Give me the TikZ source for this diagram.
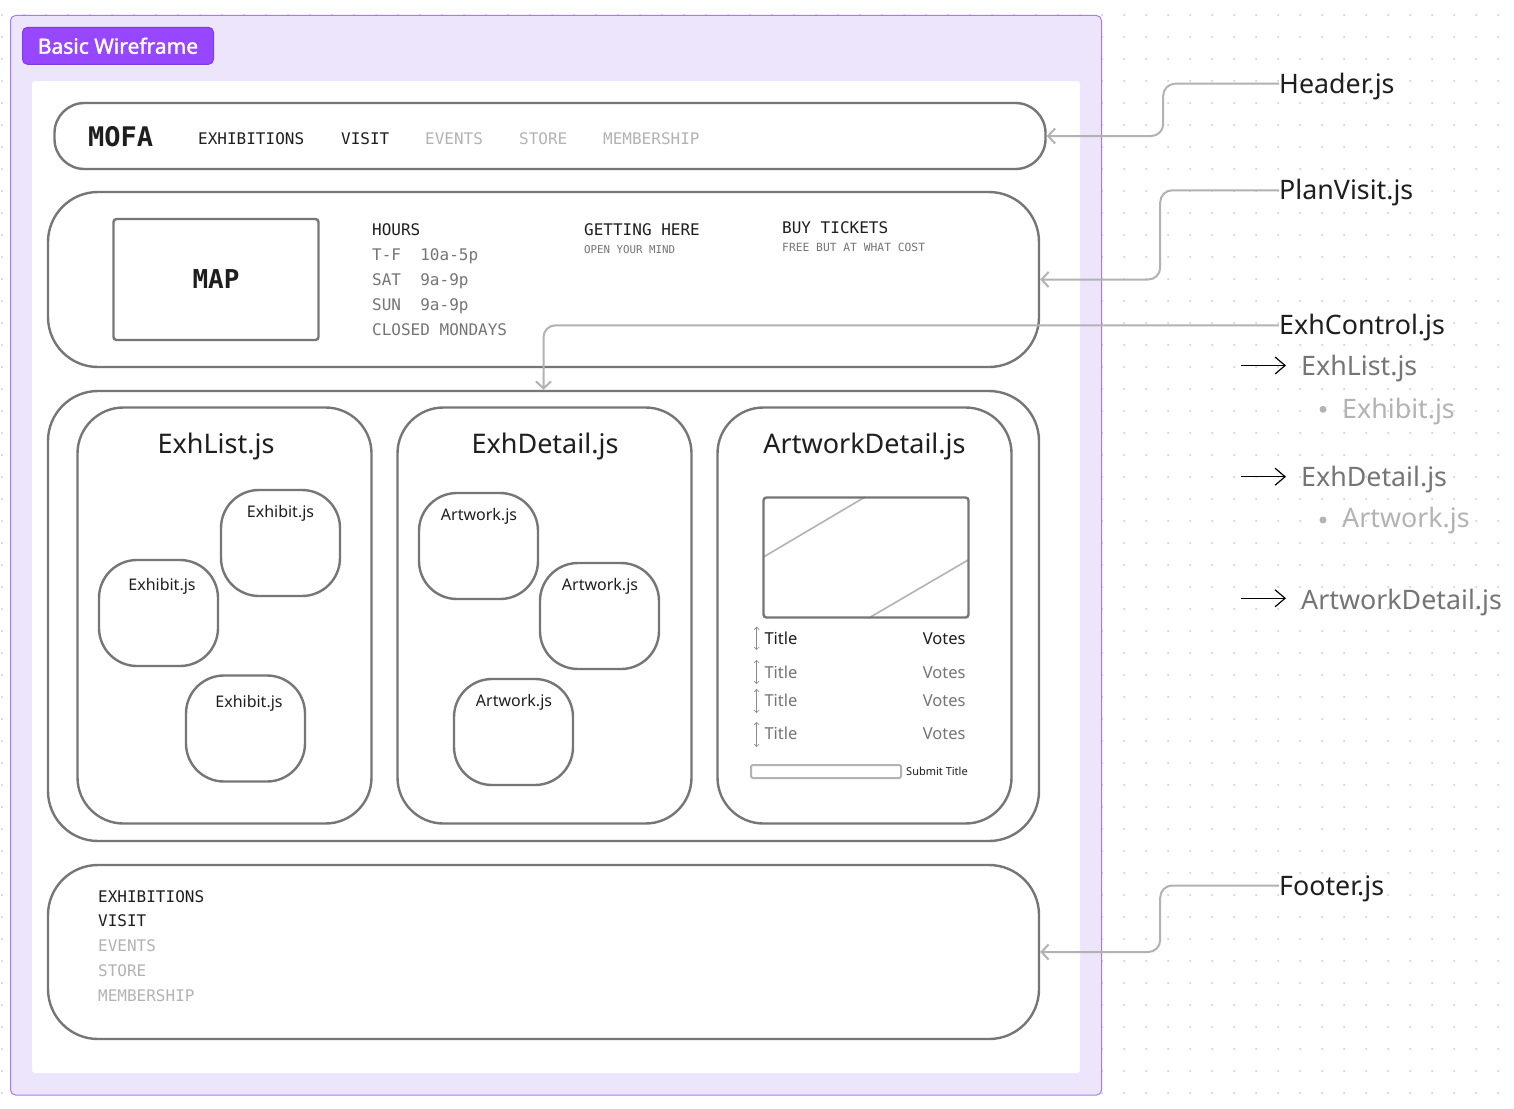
\documentclass[tikz,border=0pt]{standalone}
\usepackage{fontspec}
\setmainfont{Noto Sans}
\newfontfamily\wfmono{DejaVu Sans Mono}
\newfontfamily\tagfont[FakeBold=1.6]{Noto Sans}
\usetikzlibrary{arrows.meta}

\definecolor{frameFill}{RGB}{237,229,252}
\definecolor{frameLine}{RGB}{166,122,245}
\definecolor{tagFill}{RGB}{151,71,255}
\definecolor{tagLine}{RGB}{128,60,225}
\definecolor{boxLine}{RGB}{118,118,118}
\definecolor{connC}{RGB}{178,178,178}
\definecolor{ink}{RGB}{30,30,30}
\definecolor{midGray}{RGB}{117,117,117}
\definecolor{lightGray}{RGB}{179,179,179}
\definecolor{dotC}{RGB}{200,200,200}
\definecolor{tickC}{RGB}{140,140,140}

\begin{document}
\begin{tikzpicture}[x=1pt,y=-1pt,
  wf/.style={draw=boxLine, line width=2.4pt, inner sep=0pt, rectangle},
  sm/.style={wf, rounded corners=38pt, minimum width=119pt, minimum height=106pt},
  panel/.style={wf, rounded corners=46pt, minimum width=294pt, minimum height=416pt},
  mono/.style={font=\wfmono\fontsize{16pt}{19pt}\selectfont, inner sep=0pt, anchor=base west, text=ink},
  tiny/.style={inner sep=0pt, anchor=base west, text=midGray},
  ui/.style={font=\fontsize{16pt}{19pt}\selectfont, inner sep=0pt, text=ink},
  row/.style={font=\fontsize{16.5pt}{19pt}\selectfont, inner sep=0pt},
  title/.style={font=\fontsize{27pt}{30pt}\selectfont, inner sep=0pt, text=ink, anchor=base},
  side/.style={font=\fontsize{26.8pt}{30pt}\selectfont, inner sep=0pt, text height=19pt, text depth=0pt, anchor=west, text=ink},
  conn/.style={draw=connC, line width=2pt, rounded corners=12pt, -{Straight Barb[length=7pt,width=15pt]}},
  listarrow/.style={draw=black, line width=1.2pt, -{Straight Barb[length=10pt,width=17pt]}, shorten >=15pt},
  updown/.style={draw=tickC, line width=0.6pt, {Straight Barb[length=2.5pt,width=5pt]}-{Straight Barb[length=2.5pt,width=5pt]}}
]
\useasboundingbox (0,0) rectangle (1514,1108);
\fill[white] (0,0) rectangle (1514,1108);

% dotted canvas
\foreach \i in {0,...,68}{\foreach \j in {0,...,49}{\fill[dotC] (2+22*\i,15+22*\j) circle[radius=1pt];}}

% frame
\draw[draw=frameLine, fill=frameFill, line width=1pt, rounded corners=5pt] (10.5,15.5) rectangle (1101.5,1095);
\fill[white, rounded corners=3pt] (32,81) rectangle (1080,1073);
\node[draw=tagLine, fill=tagFill, line width=1pt, rounded corners=5pt, minimum width=191pt, minimum height=37pt, inner sep=0pt, text=white, font=\tagfont\fontsize{21pt}{24pt}\selectfont] (tag) at (118,45.8) {Basic Wireframe};

% header
\node[wf, rounded corners=30pt, minimum width=991pt, minimum height=66pt] (hdr) at (550,136) {};
\node[mono, font=\wfmono\bfseries\fontsize{27pt}{30pt}\selectfont] (mofa) at (88,146.7) {MOFA};
\node[mono] (nEx) at (198,144) {EXHIBITIONS};
\node[mono] (nVi) at (341,144) {VISIT};
\node[mono, text=lightGray] (nEv) at (425,144) {EVENTS};
\node[mono, text=lightGray] (nSt) at (519,144) {STORE};
\node[mono, text=lightGray] (nMe) at (603,144) {MEMBERSHIP};

% plan visit
\node[wf, rounded corners=50pt, minimum width=991pt, minimum height=175pt] (pv) at (543.5,279.5) {};
\node[wf, rounded corners=3pt, minimum width=205pt, minimum height=121pt, font=\wfmono\bfseries\fontsize{26pt}{30pt}\selectfont, text=ink] (map) at (216,279.5) {MAP};
\node[mono] (hrs) at (372,235) {HOURS};
\node[mono, text=midGray] (h1) at (372,260) {T-F\ \ 10a-5p};
\node[mono, text=midGray] (h2) at (372,285) {SAT\ \ 9a-9p};
\node[mono, text=midGray] (h3) at (372,310) {SUN\ \ 9a-9p};
\node[mono, text=midGray] (h4) at (372,335) {CLOSED MONDAYS};
\node[mono] (gh) at (584,235) {GETTING HERE};
\node[tiny, font=\wfmono\fontsize{10.8pt}{12pt}\selectfont] (gh2) at (584,253.3) {OPEN YOUR MIND};
\node[mono] (bt) at (782,233.3) {BUY TICKETS};
\node[tiny, font=\wfmono\fontsize{11.3pt}{13pt}\selectfont] (bt2) at (782,251) {FREE BUT AT WHAT COST};

% exhibitions area
\node[wf, rounded corners=50pt, minimum width=991pt, minimum height=450pt] (exh) at (543.5,616) {};
\node[panel] (pList) at (224.5,615.5) {};
\node[panel] (pDet) at (544.5,615.5) {};
\node[panel] (pArt) at (864.5,615.5) {};
\node[title] (tList) at (216,453.3) {ExhList.js};
\node[title] (tDet) at (545,453.3) {ExhDetail.js};
\node[title] (tArt) at (864.5,453.3) {ArtworkDetail.js};

\node[sm] (ex1) at (280.5,543) {};
\node[ui, anchor=base] (ex1t) at (280.5,517) {Exhibit.js};
\node[sm] (ex2) at (158.5,613) {};
\node[ui, anchor=base] (ex2t) at (162,590) {Exhibit.js};
\node[sm] (ex3) at (245.5,728.5) {};
\node[ui, anchor=base] (ex3t) at (249,707) {Exhibit.js};

\node[sm] (ar1) at (478.5,546) {};
\node[ui, anchor=base] (ar1t) at (479,520) {Artwork.js};
\node[sm] (ar2) at (599.5,616) {};
\node[ui, anchor=base] (ar2t) at (600,590) {Artwork.js};
\node[sm] (ar3) at (513.5,732) {};
\node[ui, anchor=base] (ar3t) at (514,706) {Artwork.js};

% artwork detail
\draw[draw=lightGray, line width=1.6pt] (763,557.3) -- (865,497);
\draw[draw=lightGray, line width=1.6pt] (868.3,618.3) -- (969.3,559.3);
\node[wf, rounded corners=3pt, minimum width=205pt, minimum height=120pt] (img) at (866,557.5) {};

\node[row, anchor=base west, text=ink] (r1t) at (764.3,644) {Title};
\node[row, anchor=base east, text=ink] (r1v) at (965.7,644) {Votes};
\node[row, anchor=base west, text=midGray] (r2t) at (764.3,678.3) {Title};
\node[row, anchor=base east, text=midGray] (r2v) at (965.7,678.3) {Votes};
\node[row, anchor=base west, text=midGray] (r3t) at (764.3,706.7) {Title};
\node[row, anchor=base east, text=midGray] (r3v) at (965.7,706.7) {Votes};
\node[row, anchor=base west, text=midGray] (r4t) at (764.3,739.3) {Title};
\node[row, anchor=base east, text=midGray] (r4v) at (965.7,739.3) {Votes};
\draw[updown] (756.7,626.7) -- (756.7,650);
\draw[updown] (756.7,660) -- (756.7,684);
\draw[updown] (756.7,689) -- (756.7,713);
\draw[updown] (756.7,722) -- (756.7,747);

\node[draw=lightGray, line width=2pt, rounded corners=2pt, minimum width=150pt, minimum height=13pt, inner sep=0pt] (inp) at (826,771.5) {};
\node[ui, anchor=base west, font=\fontsize{11pt}{13pt}\selectfont] (sub) at (906,775) {Submit Title};

% footer
\node[wf, rounded corners=50pt, minimum width=991pt, minimum height=174pt] (ftr) at (543.5,952) {};
\node[mono] (f1) at (98,902.3) {EXHIBITIONS};
\node[mono] (f2) at (98,926.7) {VISIT};
\node[mono, text=lightGray] (f3) at (98,951.7) {EVENTS};
\node[mono, text=lightGray] (f4) at (98,976.7) {STORE};
\node[mono, text=lightGray] (f5) at (98,1001) {MEMBERSHIP};

% component labels
\node[side] (hj) at (1279,83.7) {Header.js};
\node[side] (pvj) at (1279,190.3) {PlanVisit.js};
\node[side] (ecj) at (1279,325.3) {ExhControl.js};
\node[side] (fj) at (1279,885.5) {Footer.js};

\node[side, text=midGray] (ell) at (1301,365.8) {ExhList.js};
\node[side, text=lightGray] (exb) at (1342,409.2) {Exhibit.js};
\node[side, text=midGray] (edl) at (1301,477) {ExhDetail.js};
\node[side, text=lightGray] (awb) at (1342,517.5) {Artwork.js};
\node[side, text=midGray] (adl) at (1301,599.7) {ArtworkDetail.js};
\fill[lightGray] (1323,409.3) circle[radius=3.5pt];
\fill[lightGray] (1323,520) circle[radius=3.5pt];

\coordinate (la1) at (1241,365.5);
\coordinate (la2) at (1241,476.7);
\coordinate (la3) at (1241,598.3);
\draw[listarrow] (la1) -- (la1 -| ell.west);
\draw[listarrow] (la2) -- (la2 -| edl.west);
\draw[listarrow] (la3) -- (la3 -| adl.west);

% connectors
\draw[conn] (hj.west) -| ([xshift=116.5pt]hdr.east) -- (hdr.east);
\draw[conn] (pvj.west) -| ([xshift=120pt]pv.east) -- (pv.east);
\draw[conn] (ecj.west) -| (exh.north);
\draw[conn] (fj.west) -| ([xshift=120pt]ftr.east) -- (ftr.east);
\end{tikzpicture}
\end{document}
